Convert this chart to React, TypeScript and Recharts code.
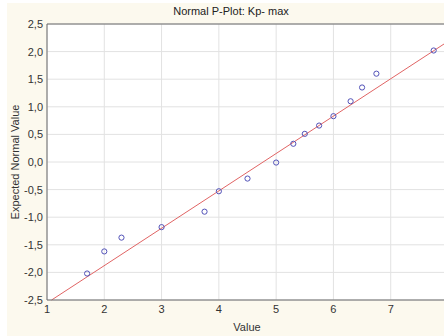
import { ScatterChart, Scatter, XAxis, YAxis, CartesianGrid, ReferenceLine } from 'recharts'

// observed values (x) and expected normal values (y)
const VALUES = [1.7, 2.0, 2.3, 3.0, 3.75, 4.0, 4.5, 5.0, 5.3, 5.5, 5.75, 6.0, 6.3, 6.5, 6.75, 7.75]
const EXPECTED = [-2.02, -1.62, -1.37, -1.18, -0.9, -0.53, -0.3, -0.01, 0.33, 0.51, 0.66, 0.83, 1.1, 1.35, 1.6, 2.02]

// fitted reference line end points
const FIT_X = [1.08, 8]
const FIT_Y = [-2.5, 2.185]

const X_TICKS = [1, 2, 3, 4, 5, 6, 7]
const Y_TICKS = [-2.5, -2, -1.5, -1, -0.5, 0, 0.5, 1, 1.5, 2, 2.5]

const points = VALUES.map((v, i) => ({ x: v, y: EXPECTED[i] }))

const FONT = '"Liberation Sans", Arial, sans-serif'
const tickStyle = { fontSize: 11, fill: '#333', fontFamily: FONT }

const fmt = (v: number) => v.toFixed(1).replace('.', ',')

const OpenDot = (props: any) => (
  <circle cx={props.cx} cy={props.cy} r={2.6} fill="none" stroke="#5252b8" strokeWidth={1} />
)

export default function App() {
  return (
    <div
      style={{
        position: 'absolute',
        left: 0,
        top: 0,
        width: 444,
        height: 336,
        overflow: 'hidden',
        background: '#fff',
        fontFamily: FONT,
      }}
    >
      <div style={{ position: 'absolute', left: 7, top: 3, right: 0, bottom: 0, background: '#fcf9ee' }} />
      <div style={{ position: 'absolute', left: 0, top: 0 }}>
        <ScatterChart width={452} height={336} margin={{ top: 24, right: 4, bottom: 0, left: 0 }}>
          <CartesianGrid stroke="#e2e2e2" fill="#fff" verticalPoints={undefined} />
          <XAxis
            type="number"
            dataKey="x"
            domain={[1, 8]}
            ticks={X_TICKS}
            height={36}
            tickSize={0}
            tickMargin={5}
            tick={tickStyle}
            axisLine={{ stroke: '#6a6a6a' }}
            allowDataOverflow
          />
          <YAxis
            type="number"
            dataKey="y"
            domain={[-2.5, 2.5]}
            ticks={Y_TICKS}
            width={47}
            tickSize={0}
            tickMargin={4}
            tick={tickStyle}
            tickFormatter={fmt}
            axisLine={{ stroke: '#6a6a6a' }}
            interval={0}
          />
          <ReferenceLine y={2.5} stroke="#6a6a6a" />
          <ReferenceLine
            segment={[
              { x: FIT_X[0], y: FIT_Y[0] },
              { x: FIT_X[1], y: FIT_Y[1] },
            ]}
            stroke="#e06464"
            strokeWidth={1}
          />
          <Scatter data={points} shape={OpenDot} isAnimationActive={false} />
        </ScatterChart>
      </div>
      <div
        style={{
          position: 'absolute',
          left: 231,
          top: 11,
          transform: 'translate(-50%, -50%)',
          fontSize: 11,
          color: '#222',
          whiteSpace: 'nowrap',
        }}
      >
        Normal P-Plot: Kp- max
      </div>
      <div
        style={{
          position: 'absolute',
          left: 247,
          top: 327,
          transform: 'translate(-50%, -50%)',
          fontSize: 11,
          color: '#333',
          whiteSpace: 'nowrap',
        }}
      >
        Value
      </div>
      <div
        style={{
          position: 'absolute',
          left: 15,
          top: 162,
          transform: 'translate(-50%, -50%) rotate(-90deg)',
          fontSize: 11,
          color: '#333',
          whiteSpace: 'nowrap',
        }}
      >
        Expected Normal Value
      </div>
    </div>
  )
}
